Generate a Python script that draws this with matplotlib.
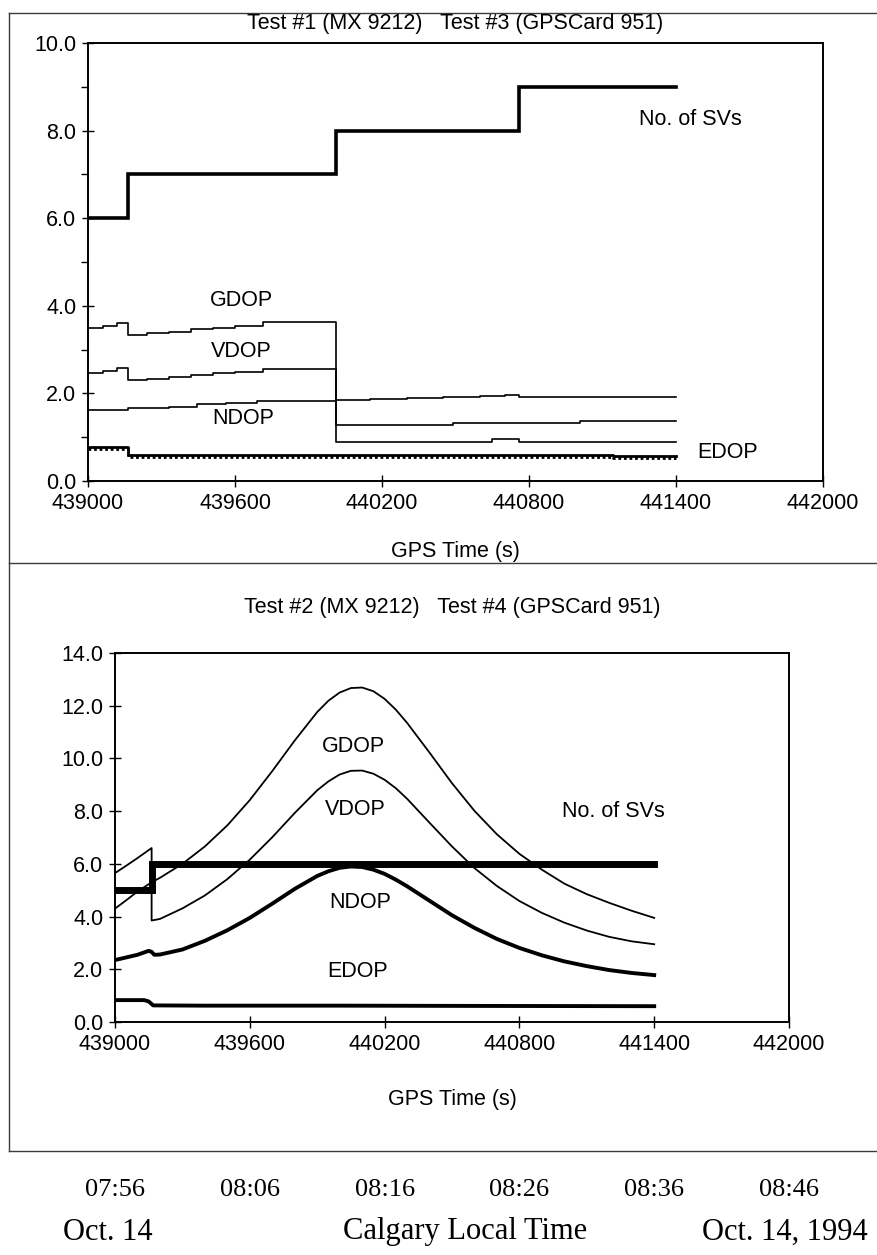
import matplotlib
matplotlib.use("Agg")
import matplotlib.pyplot as plt
import matplotlib.transforms as mtransforms
from matplotlib.lines import Line2D
from matplotlib.ticker import MultipleLocator, FormatStrFormatter

SANS = ["Liberation Sans", "DejaVu Sans"]
SERIF = ["Liberation Serif", "DejaVu Serif"]
FS = 15.5

# ---------------- Test #1 (MX 9212) / Test #3 (GPSCard 951) ----------------
t1_sv_time = [439000, 439163, 440012, 440760, 441400]
t1_sv = [6, 7, 8, 9, 9]

t1_gdop_time = [439000, 439060, 439120, 439163, 439240, 439330, 439420, 439510,
                439600, 439714, 440012, 440150, 440300, 440450, 440600, 440700,
                440760, 441400]
t1_gdop = [3.50, 3.54, 3.60, 3.33, 3.37, 3.41, 3.46, 3.50,
           3.55, 3.63, 1.86, 1.88, 1.90, 1.92, 1.94, 1.96,
           1.92, 1.92]

t1_vdop_time = [439000, 439060, 439120, 439163, 439240, 439330, 439420, 439510,
                439600, 439714, 440012, 440490, 441008, 441400]
t1_vdop = [2.47, 2.52, 2.58, 2.31, 2.34, 2.38, 2.42, 2.46,
           2.50, 2.55, 1.28, 1.32, 1.37, 1.37]

t1_ndop_time = [439000, 439163, 439330, 439445, 439565, 439690, 440012, 440650,
                440760, 441400]
t1_ndop = [1.62, 1.66, 1.70, 1.75, 1.79, 1.82, 0.89, 0.96, 0.89, 0.89]

t1_edop_time = [439000, 439163, 441143, 441400]
t1_edop = [0.77, 0.59, 0.56, 0.56]

# ---------------- Test #2 (MX 9212) / Test #4 (GPSCard 951) ----------------
t2_sv_time = [439000, 439163, 441400]
t2_sv = [5, 6, 6]

t2_gdop_time = [439000, 439050, 439100, 439163,
                439163, 439200, 439300, 439400, 439500, 439600, 439700, 439800,
                439900, 439950, 440000, 440050, 440100, 440150, 440200, 440250,
                440300, 440400, 440500, 440600, 440700, 440800, 440900, 441000,
                441100, 441200, 441300, 441400]
t2_gdop = [5.65, 5.93, 6.22, 6.60,
           5.30, 5.47, 6.00, 6.66, 7.46, 8.42, 9.52, 10.68,
           11.76, 12.19, 12.50, 12.67, 12.69, 12.55, 12.26, 11.85,
           11.35, 10.22, 9.06, 8.01, 7.12, 6.38, 5.78, 5.25,
           4.85, 4.52, 4.22, 3.95]

t2_vdop_time = t2_gdop_time
t2_vdop = [4.30, 4.62, 4.95, 5.30,
           3.85, 3.91, 4.31, 4.80, 5.42, 6.16, 7.01, 7.93,
           8.79, 9.13, 9.39, 9.53, 9.54, 9.42, 9.19, 8.87,
           8.47, 7.56, 6.66, 5.84, 5.16, 4.59, 4.14, 3.77,
           3.47, 3.23, 3.06, 2.95]

t2_ndop_time = [439000, 439050, 439100, 439150, 439163, 439175,
                439200, 439300, 439400, 439500, 439600, 439700, 439800, 439900,
                439950, 440000, 440050, 440100, 440150, 440200, 440250, 440300,
                440400, 440500, 440600, 440700, 440800, 440900, 441000, 441100,
                441200, 441300, 441400]
t2_ndop = [2.35, 2.45, 2.55, 2.70, 2.66, 2.55,
           2.56, 2.75, 3.08, 3.48, 3.95, 4.49, 5.05, 5.54,
           5.72, 5.85, 5.90, 5.88, 5.78, 5.62, 5.40, 5.15,
           4.60, 4.05, 3.57, 3.15, 2.81, 2.53, 2.30, 2.12,
           1.97, 1.86, 1.78]

t2_edop_time = [439000, 439130, 439150, 439170, 439400, 440000, 440600, 441400]
t2_edop = [0.83, 0.83, 0.78, 0.63, 0.62, 0.62, 0.61, 0.60]

# Axis / annotation text
x_ticks = [439000, 439600, 440200, 440800, 441400, 442000]
local_times = ["07:56", "08:06", "08:16", "08:26", "08:36", "08:46"]
title_top = "Test #1 (MX 9212)   Test #3 (GPSCard 951)"
title_bottom = "Test #2 (MX 9212)   Test #4 (GPSCard 951)"
x_label = "GPS Time (s)"

W, H = 878, 1255
fig = plt.figure(figsize=(W / 100, H / 100), dpi=100)
fig.patch.set_facecolor("white")


def fx(px):
    return px / W


def fy(py):
    return 1 - py / H


def style_axes(ax, ymax, ymajor, yminor=None):
    ax.set_xlim(439000, 442000)
    ax.set_ylim(0, ymax)
    ax.set_xticks(x_ticks)
    ax.xaxis.set_major_formatter(FormatStrFormatter("%d"))
    ax.yaxis.set_major_locator(MultipleLocator(ymajor))
    ax.yaxis.set_major_formatter(FormatStrFormatter("%.1f"))
    if yminor:
        ax.yaxis.set_minor_locator(MultipleLocator(yminor))
        ax.tick_params(axis="y", which="minor", direction="out", length=5, width=1)
    ax.tick_params(axis="both", which="major", direction="inout", length=9,
                   width=1, labelsize=FS, pad=4)
    for lab in ax.get_xticklabels() + ax.get_yticklabels():
        lab.set_fontfamily(SANS)
    for sp in ax.spines.values():
        sp.set_linewidth(1.4)
    ax.set_facecolor("white")


# ---------------- upper panel ----------------
ax1 = fig.add_axes([fx(88), fy(481), fx(823) - fx(88), fy(43) - fy(481)])
style_axes(ax1, 10, 2, 1)
ax1.plot(t1_sv_time, t1_sv, drawstyle="steps-post", color="black", lw=2.6,
         solid_joinstyle="miter")
for tt, vv in [(t1_gdop_time, t1_gdop), (t1_vdop_time, t1_vdop),
               (t1_ndop_time, t1_ndop)]:
    ax1.plot(tt, vv, drawstyle="steps-post", color="black", lw=1.2)
ax1.plot(t1_edop_time, t1_edop, drawstyle="steps-post", color="black", lw=2.0)
shadow = mtransforms.offset_copy(ax1.transData, fig=fig, x=0, y=-1.2, units="points")
ax1.plot(t1_edop_time, t1_edop, drawstyle="steps-post", color="black", lw=2.0,
         ls=(0, (1, 1)), transform=shadow)

lab_kw = dict(ha="center", va="center", fontsize=FS, family=SANS)
ax1.text(441460, 8.25, "No. of SVs", **lab_kw)
ax1.text(439625, 4.13, "GDOP", **lab_kw)
ax1.text(439625, 2.95, "VDOP", **lab_kw)
ax1.text(439635, 1.42, "NDOP", **lab_kw)
ax1.text(441610, 0.66, "EDOP", **lab_kw)
ax1.set_xlabel(x_label, fontsize=FS, family=SANS, va="center")
ax1.xaxis.set_label_coords(0.5, (481 - 552) / 438)

# ---------------- lower panel ----------------
ax2 = fig.add_axes([fx(115), fy(1022), fx(789) - fx(115), fy(653) - fy(1022)])
style_axes(ax2, 14, 2)
ax2.plot(t2_sv_time, t2_sv, drawstyle="steps-post", color="black", lw=5,
         solid_joinstyle="miter")
ax2.plot(t2_gdop_time, t2_gdop, color="black", lw=1.3)
ax2.plot(t2_vdop_time, t2_vdop, color="black", lw=1.3)
ax2.plot(t2_ndop_time, t2_ndop, color="black", lw=2.8)
ax2.plot(t2_edop_time, t2_edop, color="black", lw=2.8)

ax2.text(440060, 10.45, "GDOP", **lab_kw)
ax2.text(440070, 8.05, "VDOP", **lab_kw)
ax2.text(440090, 4.55, "NDOP", **lab_kw)
ax2.text(440080, 1.9, "EDOP", **lab_kw)
ax2.text(441220, 8.0, "No. of SVs", **lab_kw)
ax2.set_xlabel(x_label, fontsize=FS, family=SANS, va="center")
ax2.xaxis.set_label_coords(0.5, (1022 - 1100) / 369)

# panel titles
fig.text(fx(455), fy(24), title_top, ha="center", va="center", fontsize=FS, family=SANS)
fig.text(fx(452), fy(608), title_bottom, ha="center", va="center", fontsize=FS, family=SANS)

# panel frames (open on the right edge)
frame_kw = dict(color="#3a3a3a", lw=1.0, transform=fig.transFigure)
fig.add_artist(Line2D([fx(9), fx(9)], [fy(13), fy(1151)], **frame_kw))
for yy in (13, 563, 1151):
    fig.add_artist(Line2D([fx(9), 1.0], [fy(yy), fy(yy)], **frame_kw))

# local time row under the lower panel, aligned with the GPS time ticks
row = mtransforms.blended_transform_factory(ax2.transData, fig.transFigure)
for xt, lt in zip(x_ticks, local_times):
    fig.text(xt, fy(1190), lt, transform=row, ha="center", va="center",
             fontsize=19, family=SERIF)

fig.text(fx(108), fy(1232), "Oct. 14", ha="center", va="center", fontsize=22, family=SERIF)
fig.text(fx(465), fy(1232), "Calgary Local Time", ha="center", va="center", fontsize=22,
         family=SERIF)
fig.text(fx(785), fy(1232), "Oct. 14, 1994", ha="center", va="center", fontsize=22,
         family=SERIF)

fig.savefig("out.png", dpi=100, facecolor="white")
